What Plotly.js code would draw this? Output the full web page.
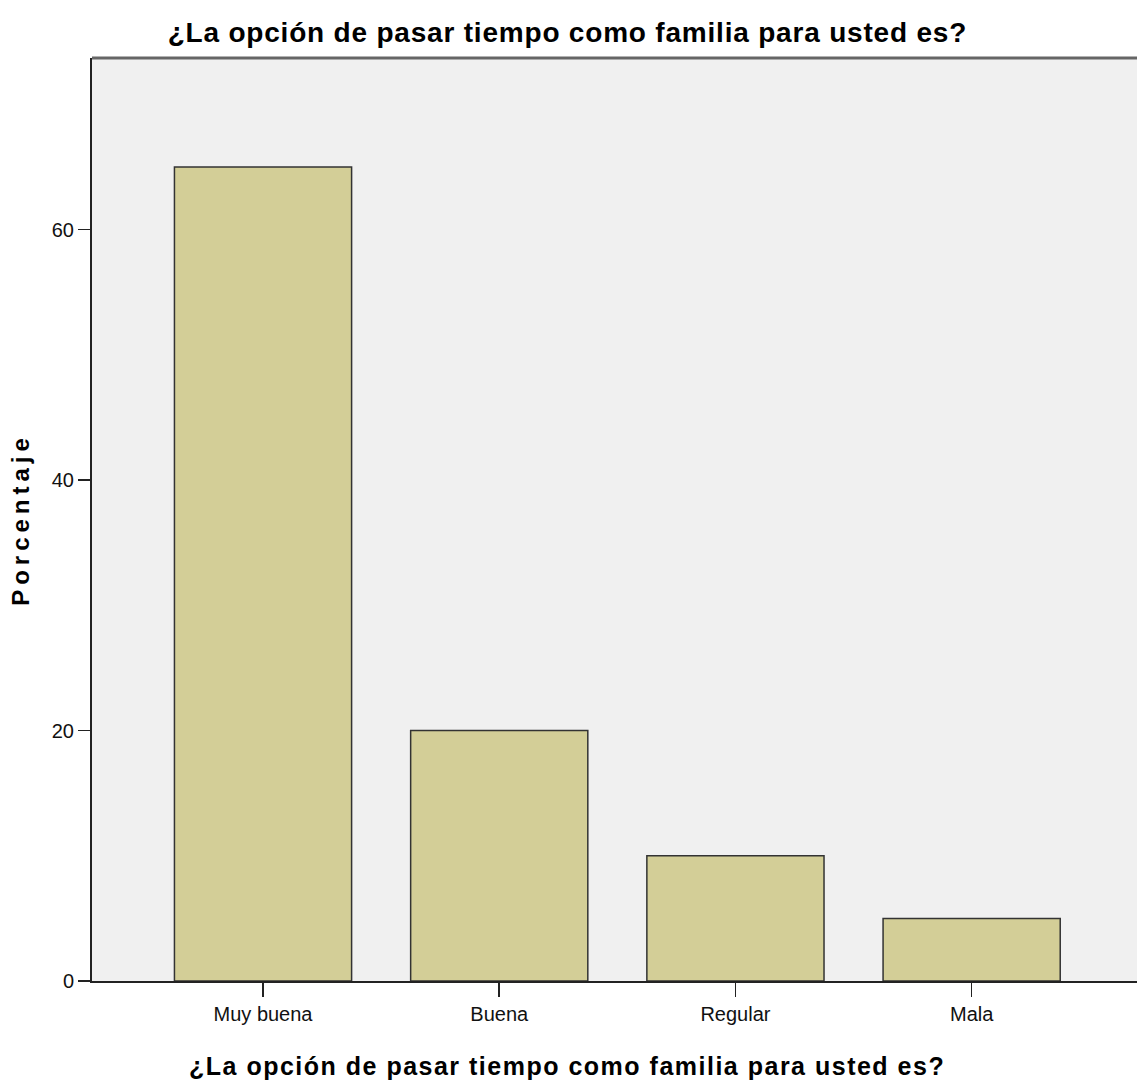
<!DOCTYPE html>
<html>
<head>
<meta charset="utf-8">
<script src="https://cdn.plot.ly/plotly-3.0.1.min.js"></script>
<style>
html, body { margin: 0; padding: 0; background: #fff; }
#chart { width: 1137px; height: 1083px; }
.ytitle { letter-spacing: 5px; }
.gtitle { letter-spacing: 0.8px; }
.annotation-text { letter-spacing: 1.5px; }
</style>
</head>
<body>
<div id="chart"></div>
<script>
const chartTitle = "¿La opción de pasar tiempo como familia para usted es?";
const categories = ["Muy buena", "Buena", "Regular", "Mala"];
const percentages = [65, 20, 10, 5];
const yTickValues = [0, 20, 40, 60];
const yTickLabels = ["0", "20", "40", "60"];
const xAxisTitle = "¿La opción de pasar tiempo como familia para usted es?";
const yAxisTitle = "Porcentaje";

const trace = {
  type: "bar",
  x: categories,
  y: percentages,
  width: 0.75,
  marker: { color: "#D3CE97", line: { color: "#333333", width: 1.5 } },
  hoverinfo: "x+y"
};

const layout = {
  width: 1137,
  height: 1083,
  margin: { l: 92, r: 0, t: 58, b: 102 },
  paper_bgcolor: "#ffffff",
  plot_bgcolor: "#F0F0F0",
  showlegend: false,
  font: { family: "Liberation Sans, Arial, sans-serif", color: "#000" },
  title: {
    text: chartTitle,
    font: { family: "Liberation Sans, Arial, sans-serif", size: 28, weight: "bold", color: "#000" },
    xref: "container", x: 0.499, xanchor: "center",
    yref: "container", y: 1 - 32 / 1083, yanchor: "middle"
  },
  xaxis: {
    type: "category",
    range: [-0.724, 3.70],
    showline: true, linecolor: "#222", linewidth: 2,
    ticks: "outside", ticklen: 14, tickwidth: 1.5, tickcolor: "#222",
    tickfont: { size: 20, color: "#111" },
    showgrid: false, zeroline: false,
    fixedrange: true
  },
  yaxis: {
    range: [0, 73.7],
    tickvals: yTickValues, ticktext: yTickLabels,
    showline: true, linecolor: "#222", linewidth: 2,
    ticks: "outside", ticklen: 12, tickwidth: 1.5, tickcolor: "#222",
    tickfont: { size: 20, color: "#111" },
    showgrid: false, zeroline: false,
    title: { text: yAxisTitle, standoff: 15, font: { size: 24, weight: "bold", color: "#000" } },
    fixedrange: true
  },
  annotations: [{
    text: xAxisTitle,
    xref: "paper", yref: "paper",
    x: 0.455, y: -85 / 923,
    xanchor: "center", yanchor: "middle",
    showarrow: false,
    font: { size: 25, weight: "bold", color: "#000" }
  }],
  shapes: [{
    type: "line", xref: "paper", yref: "paper", x0: 0, x1: 1, y0: 1, y1: 1,
    line: { color: "#666", width: 3 }
  }]
};

Plotly.newPlot("chart", [trace], layout, { displayModeBar: false, staticPlot: true });
</script>
</body>
</html>
